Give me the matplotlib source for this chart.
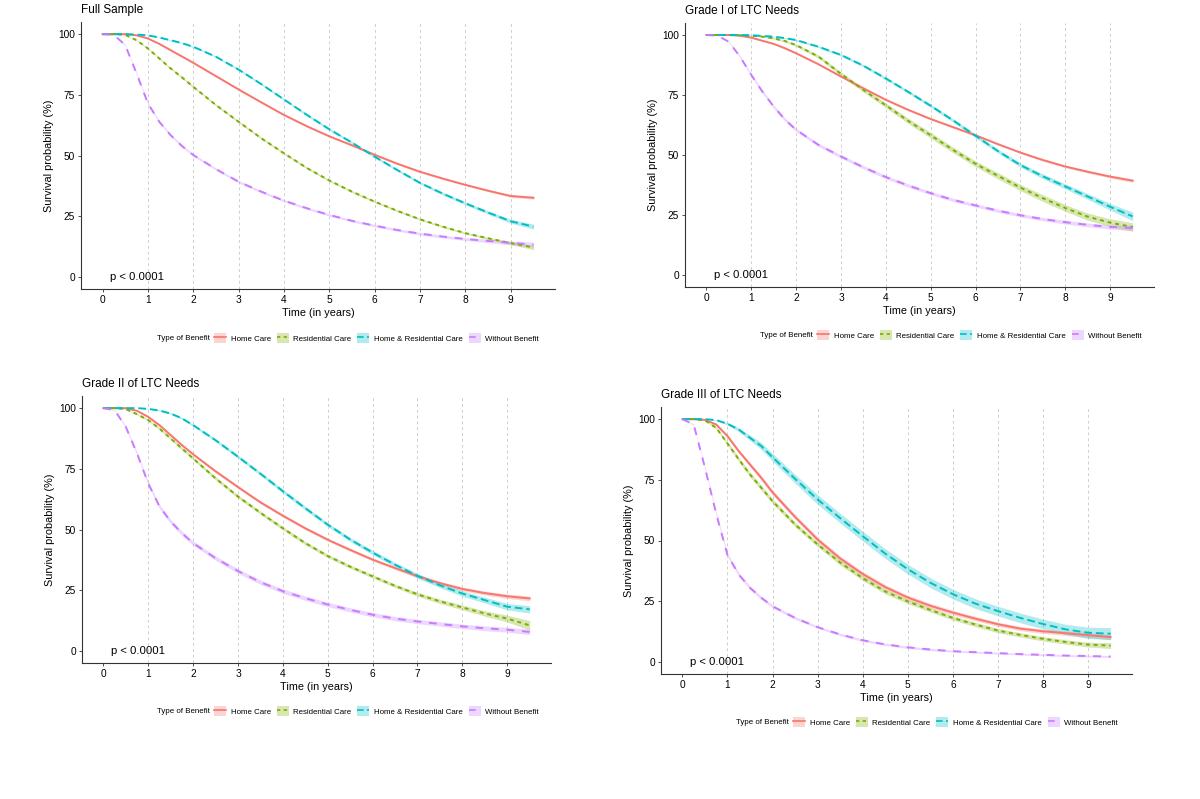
import matplotlib
matplotlib.use('Agg')
import matplotlib.pyplot as plt
from matplotlib.patches import Patch
from matplotlib.lines import Line2D
from matplotlib.legend_handler import HandlerTuple

plt.rcParams['font.family'] = ['Liberation Sans', 'DejaVu Sans']

times = [0, 0.25, 0.5, 0.75, 1, 1.25, 1.5, 1.75, 2, 2.5, 3, 3.5, 4, 4.5,
         5, 5.5, 6, 6.5, 7, 7.5, 8, 8.5, 9, 9.5]

series_names = ['Home Care', 'Residential Care', 'Home & Residential Care', 'Without Benefit']
series_colors = ['#F8766D', '#7CAE00', '#00BFC4', '#C77CFF']
series_styles = ['-', (0, (2, 2)), (0, (4, 2)), (0, (4, 4))]

panel_titles = ['Full Sample', 'Grade I of LTC Needs', 'Grade II of LTC Needs', 'Grade III of LTC Needs']

# survival (%) - Full Sample
full_home = [100, 100, 100, 99.5, 98.2, 96.0, 93.4, 90.8, 88.2, 82.7, 77.2, 71.9, 66.7, 62.1,
             57.9, 54.2, 50.3, 46.6, 43.3, 40.5, 37.9, 35.5, 33.3, 32.6]
full_resid = [100, 100, 99.7, 97.5, 94.1, 90.0, 85.9, 82.2, 78.3, 70.8, 63.9, 57.1, 50.9, 44.9,
              39.7, 35.1, 31.0, 27.2, 23.7, 20.7, 18.0, 15.9, 13.9, 12.1]
full_both = [100, 100, 100, 99.8, 99.5, 98.6, 97.5, 96.3, 94.8, 90.7, 85.4, 79.4, 73.1, 66.8,
             60.8, 55.3, 49.5, 44.0, 38.7, 34.3, 30.3, 26.5, 22.9, 20.7]
full_none = [100, 99.7, 95.5, 83.8, 71.5, 63.9, 58.4, 53.9, 50.2, 44.4, 39.2, 35.1, 31.4, 28.3,
             25.5, 23.1, 21.1, 19.3, 17.8, 16.6, 15.6, 14.8, 14.0, 13.3]

# Grade I
g1_home = [100, 100, 100, 99.7, 98.9, 97.6, 96.3, 94.5, 92.4, 87.8, 82.7, 77.8, 73.0, 68.8,
           65.0, 61.6, 58.2, 54.5, 51.0, 47.9, 45.2, 43.0, 41.0, 39.3]
g1_resid = [100, 100, 100, 99.9, 99.7, 99.3, 98.6, 97.5, 95.8, 91.0, 83.8, 77.1, 70.7, 64.2,
            58.2, 52.1, 46.3, 41.3, 36.4, 32.0, 27.9, 24.3, 21.8, 20.0]
g1_both = [100, 100, 100, 100, 99.9, 99.6, 99.3, 98.7, 97.9, 95.1, 91.7, 87.2, 81.9, 76.3,
           70.5, 64.4, 58.0, 51.6, 45.8, 41.1, 36.9, 32.7, 28.4, 24.4]
g1_none = [100, 99.7, 97.2, 91.0, 83.4, 76.4, 70.2, 64.8, 60.5, 54.2, 49.4, 44.9, 40.8, 37.3,
           34.1, 31.3, 29.0, 26.8, 24.9, 23.3, 22.0, 20.9, 20.0, 19.6]

# Grade II
g2_home = [100, 100, 100, 98.9, 96.4, 93.0, 88.9, 84.8, 81.0, 74.0, 67.5, 61.2, 55.7, 50.5,
           45.8, 41.6, 37.6, 34.1, 30.8, 27.9, 25.5, 23.8, 22.5, 21.6]
g2_resid = [100, 100, 99.6, 97.5, 95.1, 91.6, 87.5, 83.4, 79.3, 71.1, 63.6, 56.9, 50.5, 44.4,
            39.1, 34.7, 30.7, 26.8, 23.3, 20.4, 17.9, 15.4, 13.3, 10.5]
g2_both = [100, 100, 100, 100, 99.7, 99.0, 97.8, 95.8, 93.0, 86.8, 80.0, 73.0, 65.8, 58.8,
           52.0, 45.9, 40.5, 35.5, 30.9, 27.0, 23.6, 20.9, 18.2, 17.1]
g2_none = [100, 99.2, 92.3, 81.4, 69.0, 59.5, 53.3, 48.5, 44.4, 38.2, 32.9, 28.3, 24.6, 21.7,
           19.1, 16.9, 14.9, 13.3, 12.1, 11.1, 10.1, 9.3, 8.7, 7.8]

# Grade III
g3_home = [100, 100, 99.7, 97.8, 93.0, 86.8, 81.3, 75.8, 69.8, 59.7, 50.4, 42.6, 36.2, 30.8,
           26.5, 23.1, 20.3, 17.8, 15.5, 13.7, 12.6, 11.8, 11.0, 10.2]
g3_resid = [100, 100, 99.5, 96.4, 90.0, 83.4, 77.2, 71.7, 66.2, 56.6, 48.4, 40.9, 34.5, 29.0,
            24.9, 21.4, 18.1, 15.4, 12.9, 11.1, 9.5, 8.2, 7.1, 6.7]
g3_both = [100, 100, 100, 99.6, 98.1, 95.7, 92.3, 88.9, 84.3, 75.4, 66.9, 59.2, 51.8, 44.6,
           38.2, 32.6, 27.9, 24.0, 20.9, 18.1, 15.6, 13.4, 12.0, 11.6]
g3_none = [100, 97.8, 80.0, 61.0, 44.0, 36.0, 30.5, 26.4, 22.9, 18.1, 14.3, 11.3, 8.9, 7.2,
           6.0, 5.1, 4.4, 4.0, 3.6, 3.2, 2.9, 2.6, 2.4, 2.2]

# confidence band half-widths (percentage points)
full_ci = [
    [0, 0, 0, .1, .1, .2, .2, .2, .3, .3, .3, .3, .3, .3, .3, .3, .4, .4, .4, .4, .4, .4, .5, .6],
    [0, 0, .1, .2, .3, .3, .3, .4, .4, .4, .4, .4, .4, .4, .4, .4, .4, .4, .4, .4, .4, .5, .6, .9],
    [0, 0, 0, 0, .1, .1, .2, .2, .3, .3, .4, .4, .4, .5, .5, .5, .5, .5, .5, .6, .6, .7, .8, 1.0],
    [0, .1, .3, .4, .5, .5, .5, .5, .5, .5, .5, .5, .5, .5, .5, .5, .5, .5, .6, .6, .6, .7, .8, 1.0],
]
g1_ci = [
    [0, 0, 0, .1, .1, .2, .2, .3, .3, .3, .3, .4, .4, .4, .4, .4, .4, .4, .4, .5, .5, .5, .6, .7],
    [0, 0, 0, .1, .2, .2, .3, .4, .5, .7, .8, .9, 1.0, 1.1, 1.2, 1.2, 1.2, 1.3, 1.3, 1.4, 1.4, 1.5, 1.6, 1.8],
    [0, 0, 0, 0, .1, .1, .2, .2, .3, .4, .5, .5, .6, .6, .7, .7, .8, .8, .9, 1.0, 1.1, 1.2, 1.4, 1.8],
    [0, .1, .3, .5, .6, .7, .7, .7, .7, .7, .7, .7, .7, .7, .7, .7, .7, .7, .7, .7, .8, .8, .9, 1.1],
]
g2_ci = [
    [0, 0, 0, .2, .3, .4, .5, .5, .5, .6, .6, .6, .6, .6, .6, .6, .6, .6, .7, .7, .8, .8, .9, 1.0],
    [0, 0, .1, .3, .4, .5, .5, .6, .6, .7, .7, .7, .7, .7, .7, .7, .7, .7, .8, .9, 1.0, 1.1, 1.4, 2.0],
    [0, 0, 0, 0, .1, .2, .3, .4, .5, .6, .7, .7, .8, .8, .8, .8, .9, .9, 1.0, 1.0, 1.1, 1.2, 1.3, 1.5],
    [0, .2, .5, .7, .8, .9, .9, .9, .9, .9, .9, .9, .9, .9, .9, .9, .9, .9, .9, .9, .9, 1.0, 1.0, 1.1],
]
g3_ci = [
    [0, 0, .1, .4, .6, .8, .9, 1.0, 1.0, 1.0, 1.0, 1.0, 1.0, 1.0, 1.0, 1.0, 1.0, .9, .9, .9, .9, .9, 1.0, 1.0],
    [0, 0, .1, .5, .7, .9, 1.0, 1.0, 1.0, 1.0, 1.0, 1.0, 1.0, 1.0, .9, .9, .9, .9, .9, .9, .9, .9, 1.0, 1.2],
    [0, 0, 0, .2, .5, .8, 1.1, 1.4, 1.6, 1.8, 2.0, 2.0, 2.0, 2.0, 2.0, 2.0, 2.0, 2.0, 2.0, 2.0, 2.0, 2.1, 2.3, 2.5],
    [0, .3, .7, .8, .8, .8, .7, .7, .6, .6, .5, .5, .5, .5, .5, .5, .4, .4, .4, .4, .4, .4, .4, .4],
]

panel_curves = [
    [full_home, full_resid, full_both, full_none],
    [g1_home, g1_resid, g1_both, g1_none],
    [g2_home, g2_resid, g2_both, g2_none],
    [g3_home, g3_resid, g3_both, g3_none],
]
panel_ci = [full_ci, g1_ci, g2_ci, g3_ci]

x_ticks = [0, 1, 2, 3, 4, 5, 6, 7, 8, 9]
y_ticks = [0, 25, 50, 75, 100]

W, H = 1200, 799
# axes rectangles in pixels: left, top, width, height
panel_px = [
    (81, 22, 474, 267),
    (685, 23, 469, 264),
    (82, 396, 469, 267),
    (661, 407, 471, 267),
]
# legend anchor (x of first key, y centre) in pixels
legend_px = [(214, 338), (817, 335), (214, 711), (793, 722)]

fig = plt.figure(figsize=(W / 100, H / 100), dpi=100)

for i in range(4):
    l, t, w, h = panel_px[i]
    ax = fig.add_axes([l / W, 1 - (t + h) / H, w / W, h / H])

    for curve, ci, c, ls in zip(panel_curves[i], panel_ci[i], series_colors, series_styles):
        lo = [v - d for v, d in zip(curve, ci)]
        hi = [v + d for v, d in zip(curve, ci)]
        ax.fill_between(times, lo, hi, color=c, alpha=0.3, lw=0)
        ax.plot(times, curve, color=c, ls=ls, lw=1.4)

    ax.vlines(x_ticks[1:], -5, 105, colors='#cfcfcf', linestyles=(0, (3, 3)), lw=0.7, zorder=0)

    ax.set_xlim(-0.475, 9.975)
    ax.set_ylim(-5, 105)
    ax.set_xticks(x_ticks)
    ax.set_yticks(y_ticks)
    for s in ['top', 'right']:
        ax.spines[s].set_visible(False)
    for s in ['left', 'bottom']:
        ax.spines[s].set_color('#333333')
        ax.spines[s].set_linewidth(0.8)
    ax.tick_params(labelsize=7.3, length=2.2, width=0.6, color='#333333', pad=2, labelcolor='black')

    ax.set_xlabel('Time (in years)', fontsize=7.8, labelpad=2)
    ax.set_ylabel('Survival probability (%)', fontsize=7.8, labelpad=3)
    ax.text(0.17, 0, 'p < 0.0001', fontsize=8.2, ha='left', va='center')
    ax.annotate(panel_titles[i], xy=(0, 1), xycoords='axes fraction', xytext=(0, 8.3),
                textcoords='offset points', ha='left', va='center', fontsize=8.5)

    handles = []
    for c, ls in zip(series_colors, series_styles):
        handles.append((Patch(facecolor=c, alpha=0.3, edgecolor='none'),
                        Line2D([], [], color=c, ls=ls, lw=1.2)))
    lx, ly = legend_px[i]
    fig.legend(handles, series_names, loc='center left',
               bbox_to_anchor=(lx / W, 1 - ly / H), ncol=4, frameon=False,
               fontsize=5.7, handlelength=1.5, handleheight=1.4, handletextpad=0.6,
               columnspacing=0.75, borderpad=0, borderaxespad=0,
               handler_map={tuple: HandlerTuple(ndivide=1, pad=0)})
    fig.text((lx - 4) / W, 1 - ly / H - 0.001, 'Type of Benefit', ha='right', va='center', fontsize=5.7)

fig.savefig('out.png', dpi=100)
